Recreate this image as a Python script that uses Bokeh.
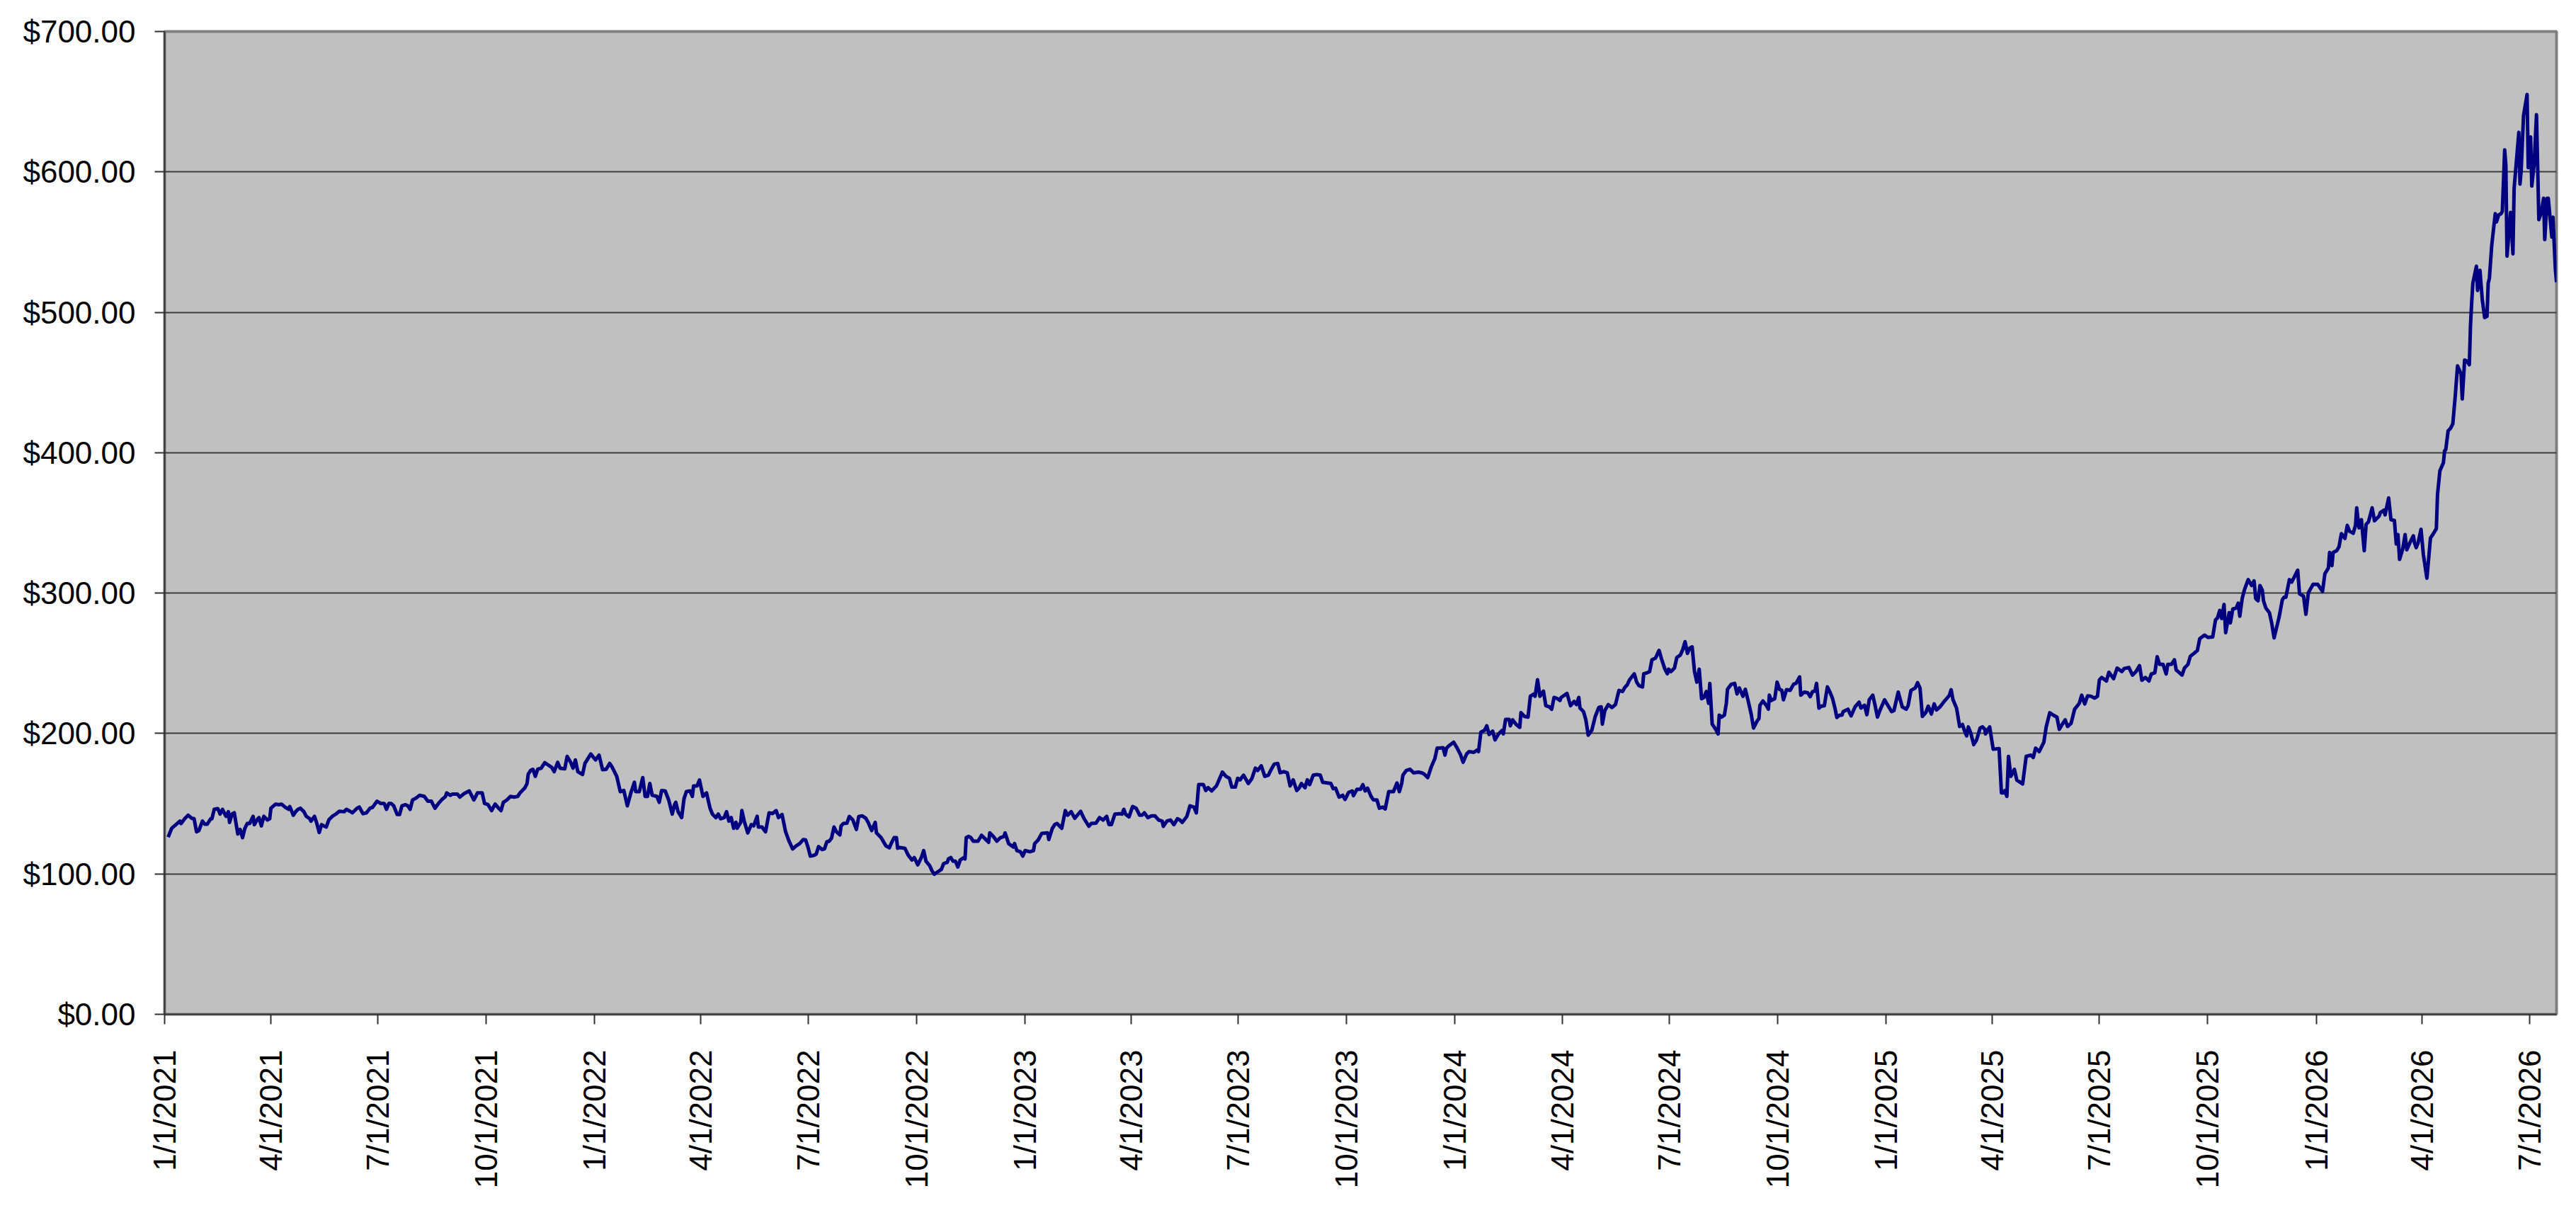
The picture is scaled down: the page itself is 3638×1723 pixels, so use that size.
import math
import pandas as pd
from bokeh.plotting import figure
from bokeh.models import (ColumnDataSource, Range1d, FixedTicker,
                          NumeralTickFormatter, CustomJSTickFormatter)
from bokeh.embed import file_html
from bokeh.resources import INLINE

# ---------------- data ----------------
# (days since 2021-01-01, closing price)
origin = "2021-01-01"
seg_2021a = [
    (3.0, 126.2), (6.0, 132.5), (13.0, 137.6), (14.0, 135.9), (17.0, 139.3),
    (20.0, 141.8), (23.0, 139.6), (25.0, 139.3), (27.1, 130.0), (29.1, 130.9),
    (32.1, 137.6), (34.1, 135.4), (36.1, 135.4), (39.1, 139.3), (40.1, 139.3),
    (42.1, 146.0), (45.1, 146.5), (47.1, 142.6), (49.1, 146.0), (52.1, 141.0),
    (54.1, 144.3), (55.1, 136.7), (57.1, 142.6), (59.1, 143.5), (62.1, 128.4),
    (64.1, 131.7), (66.1, 125.8), (68.1, 132.5), (70.1, 135.9), (72.1, 135.9),
    (75.1, 141.0), (76.1, 135.1), (79.1, 139.3), (80.1, 140.1), (82.1, 134.2),
    (84.2, 141.0), (87.2, 138.4), (89.2, 139.3), (90.2, 146.8), (94.2, 149.7),
    (97.2, 149.3), (99.2, 149.7), (102.2, 147.6), (105.2, 146.0), (106.2, 148.0),
    (109.2, 141.8), (111.2, 144.3), (113.2, 146.0), (115.2, 146.8), (118.2, 144.3),
    (120.2, 141.0), (123.2, 139.3), (124.2, 137.6), (127.2, 141.0), (129.2, 135.9),
    (131.2, 129.5), (133.2, 135.1), (135.2, 134.2), (137.2, 133.4), (139.3, 138.4),
    (142.3, 141.0), (145.3, 142.6), (148.3, 144.6), (152.3, 144.3), (154.3, 146.0),
    (157.3, 144.6), (159.3, 143.5), (163.3, 146.8), (165.3, 147.6), (168.3, 142.9),
    (171.3, 143.5), (174.3, 146.8), (176.3, 147.3), (180.3, 151.8), (183.3, 150.2),
    (186.3, 150.2), (188.3, 146.0), (190.3, 150.2), (192.3, 150.2), (194.4, 148.5),
    (197.4, 142.3), (199.4, 142.3), (201.4, 148.5), (204.4, 149.3), (206.4, 148.5),
    (208.4, 146.0), (210.4, 152.7), (213.4, 154.0), (216.4, 156.0), (220.4, 155.2),
    (223.4, 151.8), (226.4, 151.8), (229.4, 146.8), (232.4, 150.2), (235.4, 153.0),
    (238.4, 155.2), (239.4, 157.7), (242.4, 156.0), (244.4, 156.9), (248.4, 156.9),
    (250.5, 154.7), (254.5, 157.4), (258.5, 159.1), (262.5, 152.7), (265.5, 157.7),
]
seg_2021b = [
    (269.5, 157.7), (271.5, 150.2), (274.5, 149.3), (277.5, 145.1), (280.5, 149.7),
    (283.5, 146.8), (285.5, 145.1), (287.5, 151.0), (290.5, 152.7), (293.5, 155.2),
    (296.5, 154.7), (299.6, 155.2), (301.6, 157.7), (305.6, 161.1), (307.6, 164.4),
    (308.6, 171.1), (310.6, 173.7), (312.6, 174.5), (314.6, 169.5), (316.6, 174.5),
    (319.6, 175.3), (322.6, 179.2), (325.6, 177.5), (328.6, 175.8), (330.6, 172.8),
    (333.6, 179.5), (335.6, 175.3), (339.6, 174.8), (341.6, 183.7), (344.6, 179.5),
    (346.6, 175.3), (348.6, 181.2), (350.7, 172.8), (354.7, 170.8), (356.7, 178.7),
    (361.7, 185.4), (365.7, 181.2), (368.7, 184.6), (371.7, 174.2), (374.7, 174.5),
    (377.7, 178.7), (379.7, 176.2), (383.7, 169.5), (386.7, 158.6), (389.7, 159.4),
    (392.7, 148.5), (395.7, 157.7), (398.7, 165.3), (399.8, 158.6), (402.8, 158.6),
    (405.8, 168.6), (407.8, 155.2), (409.8, 155.2), (411.8, 164.4), (413.8, 156.0),
    (417.8, 155.2), (419.8, 151.0), (421.8, 159.4), (424.8, 159.1), (427.8, 152.7),
    (430.8, 142.6), (432.8, 149.3), (433.8, 151.0), (435.8, 144.3), (438.8, 140.1),
    (440.8, 153.5), (442.8, 158.6), (445.8, 159.1), (447.9, 155.2), (448.9, 162.7),
    (451.9, 162.7), (453.9, 166.9), (456.9, 155.2), (459.9, 157.7), (462.9, 146.8),
    (464.9, 142.6), (467.9, 140.1), (469.9, 142.6), (471.9, 139.3), (474.9, 140.1),
    (476.9, 144.3), (478.9, 137.6), (480.9, 140.1), (482.9, 132.5), (484.9, 136.7),
    (485.9, 132.5), (488.9, 136.7), (489.9, 145.1), (491.9, 137.6), (494.9, 129.2),
    (497.9, 135.1), (499.9, 134.2), (502.9, 141.0), (503.9, 133.4), (507.0, 133.4),
    (510.0, 130.0), (513.0, 143.5), (516.0, 143.0), (519.0, 145.1), (521.0, 140.1),
    (524.0, 142.3), (527.0, 130.0), (530.0, 123.3), (533.0, 117.8), (536.0, 120.0),
    (539.0, 121.6),
]
seg_2022 = [
    (542.0, 124.5), (544.0, 124.2), (546.0, 119.1), (548.0, 112.7), (551.0, 113.2),
    (553.0, 114.1), (555.0, 119.5), (558.0, 117.4), (560.0, 117.8), (562.0, 122.8),
    (564.0, 123.3), (566.0, 125.5), (568.1, 133.4), (570.1, 130.0), (573.1, 127.8),
    (574.1, 134.2), (576.1, 135.9), (579.1, 136.2), (581.1, 140.9), (584.1, 138.4),
    (587.1, 131.7), (589.1, 140.9), (592.1, 141.3), (595.1, 139.6), (597.1, 136.7),
    (600.1, 130.9), (603.1, 136.7), (604.1, 129.2), (608.1, 125.8), (612.1, 120.0),
    (615.1, 118.6), (617.1, 122.5), (619.1, 125.8), (621.1, 125.8), (622.1, 118.3),
    (624.2, 118.8), (628.2, 118.3), (631.2, 113.2), (634.2, 109.9), (636.2, 111.6),
    (639.2, 106.5), (642.2, 111.6), (644.2, 116.6), (646.2, 109.0), (649.2, 106.0),
    (651.2, 102.3), (653.2, 99.8), (656.2, 101.5), (659.2, 103.2), (661.2, 107.4),
    (664.2, 108.2), (665.2, 110.7), (667.2, 111.6), (669.2, 109.0), (671.2, 109.0),
    (673.2, 104.9), (675.2, 109.9), (678.2, 111.6), (679.3, 110.7), (680.3, 125.8),
    (682.3, 126.7), (684.3, 125.8), (686.3, 123.3), (688.3, 123.3), (690.3, 123.3),
    (693.3, 127.5), (696.3, 125.0), (699.3, 122.5), (700.3, 129.2), (703.3, 126.7),
    (706.3, 123.3), (709.3, 125.8), (712.3, 126.7), (713.3, 129.2), (716.3, 121.6),
    (720.3, 119.1), (721.3, 121.6), (723.3, 116.6), (726.3, 115.8), (728.3, 112.7),
    (730.3, 116.6), (734.3, 115.8), (737.4, 116.6), (738.4, 121.6), (741.4, 124.2),
    (744.4, 128.9), (749.4, 129.2), (750.4, 124.5), (753.4, 132.5), (755.4, 135.1),
    (757.4, 135.9), (761.4, 132.5), (764.4, 145.1), (766.4, 141.8), (769.4, 144.3),
    (772.4, 139.6), (775.4, 142.6), (777.4, 144.6), (780.4, 139.3), (784.4, 133.9),
    (786.4, 135.9), (790.5, 136.2), (793.5, 140.1), (796.5, 138.4), (799.5, 141.0),
    (801.5, 135.1), (803.5, 135.1), (806.5, 142.6), (810.5, 142.9),
]
seg_2023 = [
    (812.5, 142.6), (814.1, 146.0), (815.5, 142.6), (818.5, 140.6), (821.5, 148.0),
    (824.5, 146.8), (827.5, 141.8), (829.5, 141.8), (831.5, 143.5), (834.5, 140.1),
    (837.5, 141.3), (840.6, 141.3), (843.6, 138.4), (846.6, 137.6), (847.6, 133.9),
    (850.6, 137.6), (853.6, 138.4), (856.6, 135.1), (859.6, 139.3), (861.6, 138.4),
    (863.6, 136.7), (867.6, 141.0), (870.2, 148.5), (873.6, 147.6), (875.6, 143.5),
    (877.6, 163.6), (881.6, 163.6), (883.6, 159.4), (885.6, 161.4), (888.6, 159.1),
    (892.7, 162.7), (897.7, 172.5), (900.7, 169.5), (903.7, 168.1), (905.7, 161.9),
    (908.7, 161.9), (910.7, 168.1), (912.7, 167.0), (915.7, 170.3), (919.7, 164.4),
    (922.7, 167.8), (925.7, 175.3), (927.7, 173.7), (930.7, 177.0), (933.7, 169.5),
    (936.7, 170.3), (938.7, 173.7), (941.7, 178.2), (944.7, 178.7), (946.7, 172.0),
    (949.8, 172.8), (952.8, 172.0), (955.2, 162.7), (957.8, 167.0), (960.8, 159.4),
    (962.8, 161.1), (964.8, 164.4), (967.8, 161.4), (969.8, 167.0), (971.8, 163.6),
    (974.8, 170.3), (977.8, 170.8), (980.8, 170.3), (982.8, 165.3), (986.8, 164.8),
    (989.8, 164.4), (991.8, 160.7), (993.8, 161.1), (996.8, 154.7), (999.8, 156.0),
    (1001.8, 153.0), (1004.9, 158.1), (1007.9, 159.1), (1008.9, 155.7), (1011.9, 160.2),
    (1014.9, 160.2), (1016.9, 163.6), (1018.9, 159.1), (1020.9, 161.1), (1023.9, 155.2),
    (1025.9, 152.7), (1028.9, 152.7), (1030.9, 146.8), (1033.9, 147.6), (1035.9, 146.3),
    (1038.9, 158.6), (1042.9, 158.6), (1045.9, 164.8), (1047.9, 158.6), (1049.9, 164.4),
    (1050.9, 170.3), (1053.9, 173.7), (1057.0, 174.5), (1060.0, 172.0), (1064.0, 172.5),
    (1067.0, 172.0), (1069.0, 171.1), (1072.0, 168.6), (1075.0, 176.2), (1078.0, 182.0),
    (1080.0, 189.6),
]
seg_2024 = [
    (1082.0, 189.6), (1085.0, 189.9), (1086.6, 184.6), (1088.0, 189.6), (1090.0, 191.3),
    (1094.0, 193.8), (1097.0, 189.6), (1100.0, 184.6), (1102.0, 179.5), (1105.0, 185.4),
    (1107.0, 187.1), (1111.1, 186.6), (1114.1, 188.3), (1115.1, 187.1), (1117.1, 201.0),
    (1120.1, 202.2), (1122.1, 205.5), (1124.1, 199.3), (1127.1, 201.7), (1129.1, 195.5),
    (1132.1, 199.7), (1135.1, 202.2), (1136.1, 199.7), (1138.1, 210.1), (1141.1, 210.1),
    (1142.1, 205.5), (1144.1, 209.7), (1147.1, 206.4), (1150.1, 204.4), (1151.1, 214.8),
    (1154.1, 212.2), (1157.1, 211.7), (1159.1, 226.5), (1162.1, 228.2), (1163.1, 226.5),
    (1165.2, 238.3), (1167.2, 226.5), (1169.2, 229.0), (1170.2, 230.2), (1172.2, 219.8),
    (1175.2, 219.0), (1177.2, 217.3), (1179.2, 225.7), (1182.2, 224.8), (1184.2, 223.5),
    (1185.2, 225.7), (1190.2, 228.5), (1193.2, 219.8), (1196.2, 222.8), (1198.2, 220.6),
    (1200.2, 225.7), (1201.2, 218.1), (1204.2, 215.6), (1206.2, 209.7), (1208.2, 198.8),
    (1211.2, 202.2), (1214.2, 212.2), (1217.2, 218.5), (1219.2, 219.0), (1220.2, 206.7),
    (1222.3, 216.4), (1225.3, 220.6), (1228.3, 218.5), (1231.3, 220.6), (1234.3, 230.7),
    (1237.3, 229.9), (1239.3, 232.9), (1241.3, 234.6), (1243.3, 238.3), (1247.3, 242.5),
    (1249.3, 236.6), (1251.3, 234.1), (1254.3, 233.2), (1255.3, 242.5), (1258.3, 243.3),
    (1260.3, 244.1), (1262.3, 252.5), (1265.3, 253.7), (1268.3, 259.2), (1270.3, 253.4),
    (1273.3, 245.8), (1275.4, 242.5), (1276.4, 245.8), (1278.4, 244.1), (1281.4, 246.6),
    (1283.4, 254.2), (1286.4, 255.9), (1288.4, 259.7), (1290.4, 265.4), (1292.4, 257.1),
    (1294.4, 260.9), (1296.4, 261.7), (1298.4, 244.1), (1300.4, 236.6), (1302.4, 245.8),
    (1304.4, 224.8), (1306.4, 225.7), (1308.4, 229.9), (1310.4, 221.5), (1311.4, 235.7),
    (1313.4, 206.7), (1316.4, 203.0), (1318.4, 199.7), (1319.4, 213.1), (1321.4, 211.7),
    (1323.8, 213.1), (1325.4, 221.5), (1326.4, 231.5), (1329.4, 234.9), (1332.5, 235.7),
    (1334.5, 228.2), (1336.5, 232.4), (1339.5, 226.5), (1341.5, 231.5), (1343.5, 224.8),
    (1346.5, 213.9), (1348.5, 203.9), (1351.5, 208.9),
]
seg_2025a = [
    (1353.1, 210.6), (1353.9, 220.1), (1356.5, 223.2), (1359.5, 219.8), (1361.1, 217.3),
    (1361.9, 227.3), (1363.5, 223.5), (1366.5, 224.8), (1368.5, 236.6), (1370.5, 231.5),
    (1372.5, 230.7), (1373.9, 224.0), (1376.5, 231.2), (1379.6, 230.7), (1382.6, 235.2),
    (1384.6, 235.7), (1387.6, 240.3), (1388.6, 227.3), (1391.6, 229.5), (1394.6, 229.0),
    (1396.6, 226.2), (1398.6, 229.9), (1400.6, 230.2), (1402.0, 235.7), (1404.0, 218.1),
    (1406.0, 219.5), (1408.6, 219.8), (1411.2, 233.2), (1413.6, 229.0), (1415.6, 224.8),
    (1417.6, 218.1), (1419.2, 211.4), (1421.6, 213.1), (1423.6, 213.1), (1424.6, 215.6),
    (1428.6, 217.3), (1431.3, 212.6), (1434.7, 219.0), (1438.1, 222.3), (1439.7, 218.1),
    (1442.7, 220.1), (1444.7, 213.4), (1446.7, 224.0), (1449.7, 227.3), (1451.7, 219.8),
    (1453.7, 211.7), (1455.7, 216.4), (1459.7, 224.0), (1462.7, 219.8), (1465.7, 215.6),
    (1467.7, 216.4), (1471.3, 229.5), (1474.7, 219.0), (1478.1, 217.3), (1479.7, 219.8),
    (1482.1, 230.7), (1485.7, 232.4), (1487.7, 236.2), (1489.8, 232.4), (1491.8, 212.2),
    (1494.8, 215.1), (1496.8, 219.5), (1499.4, 213.9), (1501.8, 221.1), (1503.8, 216.8),
    (1506.8, 219.0), (1509.8, 222.3), (1512.8, 225.2), (1514.8, 227.3), (1516.2, 231.2),
    (1517.8, 224.0), (1520.8, 218.1), (1521.8, 213.1), (1523.4, 205.0), (1525.8, 206.4),
    (1527.8, 201.3), (1529.4, 198.3), (1530.8, 204.7), (1532.8, 200.5), (1535.4, 192.1),
    (1537.8, 195.5), (1540.8, 203.9), (1542.8, 204.7), (1544.8, 203.0), (1545.4, 199.7),
    (1546.8, 202.2), (1548.9, 204.7), (1551.9, 188.8), (1556.9, 189.3), (1558.9, 157.7),
    (1560.9, 157.7), (1561.9, 159.4), (1563.5, 155.2), (1564.9, 183.7), (1566.9, 169.5),
    (1569.9, 174.5), (1571.9, 166.9), (1576.9, 164.1), (1579.9, 183.7), (1583.9, 184.6),
    (1585.9, 182.9), (1587.9, 189.6), (1590.9, 187.1), (1594.9, 193.8), (1596.9, 204.7),
    (1599.9, 214.8), (1602.9, 213.1), (1606.0, 211.7), (1608.0, 203.0), (1611.0, 207.2),
    (1613.0, 209.7), (1615.0, 205.0), (1618.0, 207.2), (1621.0, 217.3),
]
seg_2025b = [
    (1625.0, 221.5), (1627.0, 227.3), (1629.6, 221.1), (1632.0, 226.8), (1635.0, 226.5),
    (1638.0, 225.2), (1640.4, 226.5), (1642.0, 238.2), (1644.0, 239.9), (1648.0, 237.4),
    (1650.1, 243.6), (1654.1, 239.1), (1657.1, 246.6), (1661.1, 244.1), (1663.1, 246.3),
    (1667.1, 247.0), (1670.1, 241.6), (1673.1, 244.1), (1676.1, 248.3), (1678.1, 237.9),
    (1681.1, 239.9), (1684.1, 237.4), (1686.1, 242.4), (1689.1, 243.3), (1691.1, 254.7),
    (1693.1, 249.2), (1696.1, 249.2), (1698.7, 242.4), (1700.1, 249.2), (1703.1, 249.2),
    (1705.7, 252.5), (1707.2, 245.3), (1712.2, 241.6), (1714.2, 246.6), (1717.2, 249.2),
    (1719.2, 255.0), (1722.2, 257.0), (1725.2, 259.2), (1727.2, 267.6), (1731.2, 270.1),
    (1734.2, 268.4), (1738.2, 268.8), (1740.6, 281.0), (1742.2, 282.2), (1744.2, 287.7),
    (1745.8, 281.9), (1747.8, 291.9), (1749.2, 271.8), (1752.2, 286.1), (1753.2, 278.8),
    (1755.2, 288.6), (1758.2, 289.4), (1759.8, 292.8), (1761.2, 283.6), (1763.2, 296.1),
    (1765.3, 302.8), (1768.3, 309.6), (1771.3, 305.4), (1773.3, 308.7), (1774.7, 296.1),
    (1776.7, 294.5), (1778.3, 305.4), (1780.3, 302.0), (1781.3, 294.5), (1783.3, 289.4),
    (1786.3, 286.1), (1788.3, 278.5), (1790.3, 268.1), (1793.3, 278.5), (1794.7, 283.5),
    (1797.3, 295.3), (1798.7, 297.0), (1800.3, 297.0), (1803.3, 309.6), (1805.3, 307.9),
    (1807.3, 311.2), (1810.3, 316.3), (1811.9, 299.5), (1815.3, 297.8), (1817.3, 284.9),
    (1819.4, 300.3), (1823.4, 306.2),
]
seg_2026a = [
    (1827.4, 306.2), (1831.4, 301.2), (1833.4, 313.8), (1836.4, 317.9), (1837.4, 328.9),
    (1839.4, 319.6), (1840.4, 328.9), (1843.4, 330.2), (1845.4, 333.0), (1847.4, 342.3),
    (1850.4, 338.9), (1852.4, 348.2), (1854.4, 344.0), (1857.4, 342.6), (1859.4, 348.2),
    (1860.4, 360.7), (1862.4, 346.5), (1864.4, 352.3), (1866.8, 330.2), (1868.4, 349.0),
    (1870.4, 350.7), (1873.5, 360.7), (1875.5, 351.5), (1879.5, 354.9), (1880.5, 357.4),
    (1883.5, 359.1), (1884.5, 355.7), (1887.5, 367.8), (1889.5, 352.3), (1892.4, 351.8),
    (1894.0, 335.0), (1895.4, 341.7), (1896.8, 324.0), (1899.5, 331.6), (1901.5, 341.7),
    (1902.9, 330.8), (1905.5, 335.8), (1908.5, 340.8), (1909.5, 335.8), (1910.9, 332.4),
    (1912.5, 335.8),
]
# final, volatile stretch (calendar dates)
final_dates = [
    "2026-03-31", "2026-04-02", "2026-04-05", "2026-04-08", "2026-04-10",
    "2026-04-13", "2026-04-14", "2026-04-16", "2026-04-19", "2026-04-20",
    "2026-04-21", "2026-04-23", "2026-04-25", "2026-04-27", "2026-04-29",
    "2026-05-01", "2026-05-04", "2026-05-05", "2026-05-07", "2026-05-09",
    "2026-05-11", "2026-05-12", "2026-05-13", "2026-05-14", "2026-05-17",
    "2026-05-18", "2026-05-20", "2026-05-22", "2026-05-24", "2026-05-26",
    "2026-05-27", "2026-05-28", "2026-05-30", "2026-06-02", "2026-06-03",
    "2026-06-05", "2026-06-07", "2026-06-08", "2026-06-10", "2026-06-11",
    "2026-06-12", "2026-06-15", "2026-06-17", "2026-06-18", "2026-06-20",
    "2026-06-22", "2026-06-23", "2026-06-24", "2026-06-26", "2026-06-29",
    "2026-06-30", "2026-07-02", "2026-07-03", "2026-07-05", "2026-07-07",
    "2026-07-09", "2026-07-11", "2026-07-13", "2026-07-14", "2026-07-16",
    "2026-07-17", "2026-07-20", "2026-07-21", "2026-07-23", "2026-07-24",
]
final_values = [
    345.5, 327.4, 310.6, 339.2, 341.7, 345.9, 370.3, 387.1, 392.9, 401.3,
    402.2, 415.6, 417.3, 420.7, 440.0, 461.8, 456.0, 438.3, 466.0, 465.2,
    462.7, 491.0, 507.2, 520.7, 532.8, 515.6, 529.9, 508.9, 496.3, 497.1,
    520.7, 524.0, 547.6, 570.3, 564.4, 569.4, 570.3, 571.9, 615.6, 604.7,
    540.0, 571.1, 541.7, 587.9, 608.1, 628.2, 591.3, 601.3, 640.0, 655.1,
    603.0, 624.9, 589.9, 605.5, 640.8, 566.0, 571.1, 581.2, 551.8, 581.2,
    581.2, 553.6, 567.7, 530.8, 521.5,
]

tick_labels = [
    "1/1/2021", "4/1/2021", "7/1/2021", "10/1/2021",
    "1/1/2022", "4/1/2022", "7/1/2022", "10/1/2022",
    "1/1/2023", "4/1/2023", "7/1/2023", "10/1/2023",
    "1/1/2024", "4/1/2024", "7/1/2024", "10/1/2024",
    "1/1/2025", "4/1/2025", "7/1/2025", "10/1/2025",
    "1/1/2026", "4/1/2026", "7/1/2026",
]
y_ticks = [0, 100, 200, 300, 400, 500, 600, 700]
axis_start = "2021-01-01"
axis_end = "2026-07-24"

# ---------------- build series ----------------
trace = (seg_2021a + seg_2021b + seg_2022 + seg_2023 + seg_2024 +
         seg_2025a + seg_2025b + seg_2026a)
t0 = pd.Timestamp(origin)
trace_x = [t0 + pd.Timedelta(days=d) for d, _ in trace]
trace_y = [v for _, v in trace]
df = pd.concat([
    pd.DataFrame({"x": trace_x, "y": trace_y}),
    pd.DataFrame({"x": pd.to_datetime(final_dates), "y": final_values}),
]).drop_duplicates("x").sort_values("x").reset_index(drop=True)
source = ColumnDataSource(df)

epoch = pd.Timestamp("1970-01-01")
tick_ms = [float((pd.to_datetime(t, format="%m/%d/%Y") - epoch) / pd.Timedelta(milliseconds=1))
           for t in tick_labels]

# ---------------- figure ----------------
FONT = "Liberation Sans"
p = figure(
    x_axis_type="datetime",
    frame_width=3378, frame_height=1388,
    min_border_left=232, min_border_top=44, min_border_right=8, min_border_bottom=262,
    x_range=Range1d(pd.Timestamp(axis_start), pd.Timestamp(axis_end)),
    y_range=Range1d(0, 700),
    output_backend="svg", toolbar_location=None,
)
p.background_fill_color = "#C0C0C0"
p.border_fill_color = "white"
p.outline_line_color = "#808080"
p.outline_line_width = 4

p.line("x", "y", source=source, line_color="#000080", line_width=5,
       line_join="round")

# grid
p.xgrid.grid_line_color = None
p.ygrid.ticker = FixedTicker(ticks=y_ticks)
p.ygrid.grid_line_color = "#3c3c3c"
p.ygrid.grid_line_width = 2

# y axis
p.yaxis.ticker = FixedTicker(ticks=y_ticks)
p.yaxis.formatter = NumeralTickFormatter(format="$0,0.00")
# x axis
p.xaxis.ticker = FixedTicker(ticks=tick_ms)
p.xaxis.formatter = CustomJSTickFormatter(
    args=dict(tick_vals=tick_ms, tick_names=tick_labels),
    code="""
    for (let i = 0; i < tick_vals.length; i++) {
        if (Math.abs(tick_vals[i] - tick) < 1000) { return tick_names[i]; }
    }
    return "";
    """)
p.xaxis.major_label_orientation = math.pi / 2
p.xaxis.major_label_standoff = 36
p.yaxis.major_label_standoff = 27

for ax in (p.xaxis, p.yaxis):
    ax.axis_line_color = "#303030"
    ax.axis_line_width = 2
    ax.major_tick_line_color = "#303030"
    ax.major_tick_line_width = 2
    ax.major_tick_out = 14
    ax.major_tick_in = 0
    ax.minor_tick_line_color = None
    ax.major_label_text_font = FONT
    ax.major_label_text_font_size = "44px"
    ax.major_label_text_color = "black"

open("out.html", "w").write(file_html(p, INLINE))
